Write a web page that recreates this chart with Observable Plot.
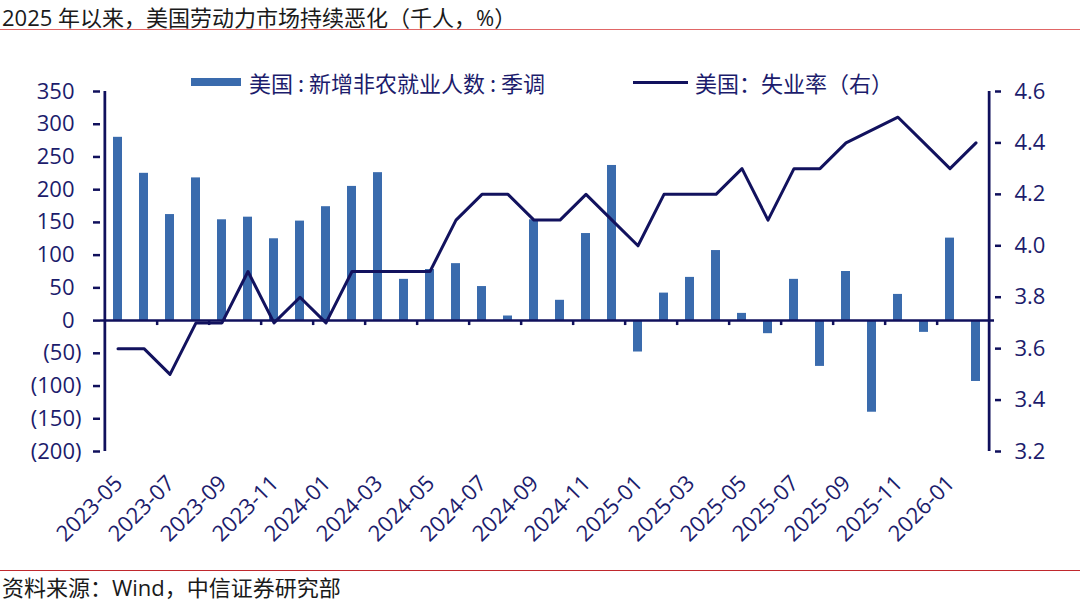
<!DOCTYPE html>
<html><head><meta charset="utf-8">
<script src="https://cdn.jsdelivr.net/npm/d3@7"></script>
<script src="https://cdn.jsdelivr.net/npm/@observablehq/plot@0.6"></script>
<style>
body{margin:0;background:#fff;}
#wrap{position:relative;width:1080px;height:605px;overflow:hidden;font-family:"Open Sans","Noto Sans CJK SC",sans-serif;}
#title{position:absolute;left:2px;top:2px;font-size:22px;line-height:30px;color:#1a1a1a;font-family:"Open Sans","Noto Sans CJK SC",sans-serif;white-space:nowrap;}
#tline{position:absolute;left:0;top:28.5px;width:1080px;height:0;border-top:1.5px solid #E06666;}
#chart{position:absolute;left:0;top:30px;}
.leg{position:absolute;font-size:22px;line-height:26px;color:#1C1C6C;white-space:nowrap;font-family:"Noto Sans CJK SC",sans-serif;}
#bline{position:absolute;left:0;top:570px;width:1080px;height:0;border-top:1.5px solid #C0282D;}
#caption{position:absolute;left:2px;top:574px;font-size:22px;line-height:26px;color:#1a1a1a;white-space:nowrap;font-family:"Open Sans","Noto Sans CJK SC",sans-serif;}
</style></head>
<body>
<div id="wrap">
  <div id="title">2025 年以来，美国劳动力市场持续恶化（千人，%）</div>
  <div id="tline"></div>
  <div id="chart"></div>
  <div style="position:absolute;left:191px;top:78px;width:50px;height:8px;background:#3A6BAD;"></div>
  <div class="leg" style="left:249px;top:69px;">美国 : 新增非农就业人数 : 季调</div>
  <div style="position:absolute;left:633px;top:81px;width:55px;height:0;border-top:3px solid #12125E;"></div>
  <div class="leg" style="left:695px;top:69px;">美国：失业率（右）</div>
  <div id="bline"></div>
  <div id="caption">资料来源：Wind，中信证券研究部</div>
</div>
<script>
const months = ["2023-05","2023-06","2023-07","2023-08","2023-09","2023-10","2023-11","2023-12",
  "2024-01","2024-02","2024-03","2024-04","2024-05","2024-06","2024-07","2024-08","2024-09","2024-10","2024-11","2024-12",
  "2025-01","2025-02","2025-03","2025-04","2025-05","2025-06","2025-07","2025-08","2025-09","2025-10","2025-11","2025-12",
  "2026-01","2026-02"];
const payrolls = [280,225,162,218,154,158,125,152,174,205,226,63,78,87,52,7,154,31,133,237,
  -48,42,66,107,11,-20,63,-70,75,-140,40,-18,126,-93];
const unemployment = [3.6,3.6,3.5,3.7,3.7,3.9,3.7,3.8,3.7,3.9,3.9,3.9,3.9,4.1,4.2,4.2,4.1,4.1,4.2,4.1,
  4.0,4.2,4.2,4.2,4.3,4.1,4.3,4.3,4.4,null,4.5,4.4,4.3,4.4];
const leftTicks = [350,300,250,200,150,100,50,0,-50,-100,-150,-200];
const rightTicks = [4.6,4.4,4.2,4.0,3.8,3.6,3.4,3.2];

const NAVY = "#1C1C6C", AX = "#10105C", BAR = "#3A6BAD", LINE = "#12125E";
const W = 1080, H = 540, ML = 100, MR = 86, MT = 61, MB = 119;
const step = (W - ML - MR) / months.length;
const L0 = -200, L1 = 350, R0 = 3.2, R1 = 4.6;
const toL = v => L0 + (v - R0) * (L1 - L0) / (R1 - R0);
const fromL = y => R0 + (y - L0) * (R1 - R0) / (L1 - L0);

const bars = months.map((m, i) => ({month: m, value: payrolls[i]}));
const rate = months.map((m, i) => ({month: m, value: unemployment[i]})).filter(d => d.value != null);
const labelMonths = months.filter((d, i) => i % 2 === 0);
const tickMonths = months.filter((d, i) => i % 2 === 1 && i < months.length - 1);
const FS = 22;

const chart = Plot.plot({
  width: W, height: H,
  marginLeft: ML, marginRight: MR, marginTop: MT, marginBottom: MB,
  x: {type: "band", domain: months, paddingInner: 0.646, paddingOuter: 0.323, axis: null},
  y: {domain: [L0, L1], axis: null},
  style: {fontFamily: '"Open Sans","Noto Sans CJK SC",sans-serif', fontSize: FS + "px", color: NAVY, background: "transparent", overflow: "visible"},
  marks: [
    Plot.barY(bars, {x: "month", y: "value", fill: BAR}),
    Plot.ruleY([0], {stroke: AX, strokeWidth: 2.5}),
    Plot.ruleX(tickMonths, {x: d => d, y1: 0, y2: -7.6, dx: step / 2, stroke: AX, strokeWidth: 2.5}),
    Plot.ruleX([months[0]], {x: d => d, y1: L0, y2: L1, dx: -step / 2, stroke: AX, strokeWidth: 2.75}),
    Plot.ruleX([months[months.length - 1]], {x: d => d, y1: L0, y2: L1, dx: step / 2, stroke: AX, strokeWidth: 2.75}),
    Plot.axisY(leftTicks.filter(d => d >= 0), {anchor: "left", label: null, tickSize: 7, tickPadding: 19, tickFormat: d => String(d), stroke: AX, strokeWidth: 2.5, fill: NAVY, fontSize: FS}),
    Plot.axisY(leftTicks.filter(d => d < 0), {anchor: "left", label: null, tickSize: 7, tickPadding: 12, tickFormat: d => `(${-d})`, stroke: AX, strokeWidth: 2.5, fill: NAVY, fontSize: FS}),
    Plot.axisY(rightTicks.map(toL), {anchor: "right", label: null, tickSize: 6, tickPadding: 14, tickFormat: d => fromL(d).toFixed(1), stroke: AX, strokeWidth: 2.5, fill: NAVY, fontSize: FS}),
    Plot.line(rate, {x: "month", y: d => toL(d.value), stroke: LINE, strokeWidth: 3}),
    Plot.text(labelMonths, {x: d => d, y: L0, text: d => d, rotate: -45, textAnchor: "end", lineAnchor: "middle", dx: 1, dy: 28, fontSize: FS, fill: NAVY})
  ]
});
document.getElementById("chart").appendChild(chart);
</script>
</body></html>
